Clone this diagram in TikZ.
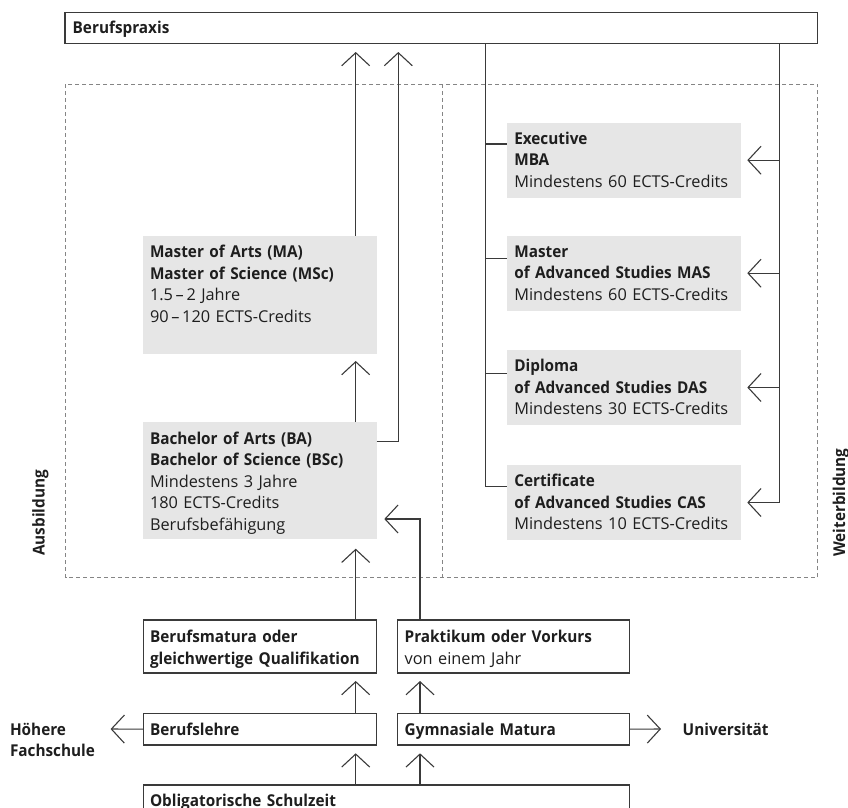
\documentclass[tikz,border=0pt]{standalone}
\usepackage{fontspec}
\setmainfont{Open Sans}[BoldFeatures={FakeStretch=0.94}]
\usetikzlibrary{arrows.meta}
\definecolor{linec}{HTML}{3A3A3A}
\definecolor{dashc}{HTML}{858585}
\definecolor{boxg}{HTML}{E6E6E6}
\definecolor{txtc}{HTML}{1E1E1E}
\begin{document}
\begin{tikzpicture}[x=1pt,y=-1pt,
  ln/.style={draw=linec, line width=1.1pt},
  arr/.style={ln, -{Straight Barb[length=13pt,width=28pt]}},
  gbox/.style={fill=boxg, draw=none, anchor=north west, inner sep=0pt, outer sep=0pt},
  wbox/.style={fill=white, draw=linec, line width=1.1pt, anchor=north west, inner sep=0pt, outer sep=0pt},
  txt/.style={font=\fontsize{16.3}{21.5}\selectfont, text=txtc, inner sep=0pt, outer sep=0pt, anchor=base west, text width=235pt, align=left},
  side/.style={font=\fontsize{16.3}{21.5}\selectfont\bfseries, text=txtc, inner sep=0pt, anchor=base west},
  dbox/.style={draw=dashc, line width=1pt, dash pattern=on 4pt off 3pt}
]
\useasboundingbox (0,0) rectangle (848,807);
\clip (0,0) rectangle (848,807);

% dashed regions
\draw[dbox] (65.7,84) rectangle (817.7,577.7);
\draw[dbox] (442,84) -- (442,577.7);

% top box
\node[wbox, minimum width=752.7pt, minimum height=31.2pt] (bp) at (65,12.5) {};
\node[txt] (bpt) at ([xshift=7.7pt,yshift=-21pt]bp.north west) {\textbf{Berufspraxis}};

% Ausbildung boxes
\node[gbox, minimum width=233.4pt, minimum height=118pt] (ma) at (143.3,235.7) {};
\node[txt] (mat) at ([xshift=6.7pt,yshift=-22pt]ma.north west)
  {\textbf{Master of Arts (MA)}\\\textbf{Master of Science (MSc)}\\1.5\,–\,2 Jahre\\90\,–\,120 ECTS-Credits};
\node[gbox, minimum width=233.4pt, minimum height=117.3pt] (ba) at (143.3,422) {};
\node[txt] (bat) at ([xshift=6.7pt,yshift=-22pt]ba.north west)
  {\textbf{Bachelor of Arts (BA)}\\\textbf{Bachelor of Science (BSc)}\\Mindestens 3 Jahre\\180 ECTS-Credits\\Berufsbefähigung};

% Weiterbildung boxes
\node[gbox, minimum width=233.7pt, minimum height=75pt] (ex) at (507,122.7) {};
\node[txt] (ext) at ([xshift=7.3pt,yshift=-21.5pt]ex.north west)
  {\textbf{Executive}\\\textbf{MBA}\\Mindestens 60 ECTS-Credits};
\node[gbox, minimum width=233.7pt, minimum height=75pt] (mas) at (507,235.7) {};
\node[txt] (mast) at ([xshift=7.3pt,yshift=-21.5pt]mas.north west)
  {\textbf{Master}\\\textbf{of Advanced Studies MAS}\\Mindestens 60 ECTS-Credits};
\node[gbox, minimum width=233.7pt, minimum height=75pt] (das) at (507,350) {};
\node[txt] (dast) at ([xshift=7.3pt,yshift=-21.5pt]das.north west)
  {\textbf{Diploma}\\\textbf{of Advanced Studies DAS}\\Mindestens 30 ECTS-Credits};
\node[gbox, minimum width=233.7pt, minimum height=75pt] (cas) at (507,465) {};
\node[txt] (cast) at ([xshift=7.3pt,yshift=-21.5pt]cas.north west)
  {\textbf{Certificate}\\\textbf{of Advanced Studies CAS}\\Mindestens 10 ECTS-Credits};

% lower boxes
\node[wbox, minimum width=233pt, minimum height=53pt] (bm) at (143.3,620) {};
\node[txt] (bmt) at ([xshift=6.7pt,yshift=-22.5pt]bm.north west)
  {\textbf{Berufsmatura oder}\\\textbf{gleichwertige Qualifikation}};
\node[wbox, minimum width=231.6pt, minimum height=53pt] (pk) at (397.7,620) {};
\node[txt] (pkt) at ([xshift=7pt,yshift=-22.5pt]pk.north west)
  {\textbf{Praktikum oder Vorkurs}\\von einem Jahr};
\node[wbox, minimum width=233pt, minimum height=31.7pt] (bl) at (143.3,713.3) {};
\node[txt] (blt) at ([xshift=6.7pt,yshift=-21.7pt]bl.north west) {\textbf{Berufslehre}};
\node[wbox, minimum width=231.6pt, minimum height=31.7pt] (gm) at (397.7,713.3) {};
\node[txt] (gmt) at ([xshift=7pt,yshift=-21.7pt]gm.north west) {\textbf{Gymnasiale Matura}};
\node[wbox, minimum width=486pt, minimum height=60pt] (os) at (143.3,785) {};
\node[txt] (ost) at ([xshift=6.7pt,yshift=-21.3pt]os.north west) {\textbf{Obligatorische Schulzeit}};

% side texts
\node[txt] (hf) at (10,735) {\textbf{Höhere}\\\textbf{Fachschule}};
\node[txt] (uv) at (682.7,735) {\textbf{Universität}};
\node[side, rotate=90] (ausb) at (44.5,556) {Ausbildung};
\node[side, rotate=90] (weit) at (845,557) {Weiterbildung};

% coordinates for free ends / columns
\coordinate (cA) at (355.7,52);
\coordinate (cB) at (398.3,52);
\coordinate (cC) at (420,519);
\coordinate (cL) at (485.7,0);
\coordinate (cR) at (779.3,0);
\coordinate (thf) at (110.6,729);
\coordinate (tuv) at (661,729);

% Ausbildung connectors
\draw[arr] (cA |- ma.north) -- (cA);
\draw[arr] ([yshift=-19.7pt]ba.north east) -| (cB);
\draw[arr] (cA |- ba.north) -- ([yshift=-7.3pt]cA |- ma.south);
\draw[arr] (cA |- bm.north) -- ([yshift=-9.4pt]cA |- ba.south);
\draw[arr] (cC |- pk.north) -- (cC) -- ([xshift=7.6pt]ba.east |- cC);
\draw[arr] (cA |- bl.north) -- ([yshift=-8pt]cA |- bm.south);
\draw[arr] (cC |- gm.north) -- ([yshift=-8pt]cC |- pk.south);
\draw[arr] (cA |- os.north) -- ([yshift=-8.3pt]cA |- bl.south);
\draw[arr] (cC |- os.north) -- ([yshift=-8.3pt]cC |- gm.south);
\draw[arr] (bl.west) -- (thf);
\draw[arr] (gm.east) -- (tuv);

% Weiterbildung connectors
\coordinate (te) at ([yshift=-21.3pt]ex.north west);
\coordinate (tm) at ([yshift=-22.6pt]mas.north west);
\coordinate (td) at ([yshift=-23.3pt]das.north west);
\coordinate (tc) at ([yshift=-21.7pt]cas.north west);
\draw[ln] (cL |- bp.south) |- (tc);
\draw[ln] (cL |- te) -- (te);
\draw[ln] (cL |- tm) -- (tm);
\draw[ln] (cL |- td) -- (td);

\draw[arr] (cR |- bp.south) |- ([xshift=6.6pt]cas.east);
\draw[arr] (cR |- ex.east) -- ([xshift=6.6pt]ex.east);
\draw[arr] (cR |- mas.east) -- ([xshift=6.6pt]mas.east);
\draw[arr] (cR |- das.east) -- ([xshift=6.6pt]das.east);
\end{tikzpicture}
\end{document}
